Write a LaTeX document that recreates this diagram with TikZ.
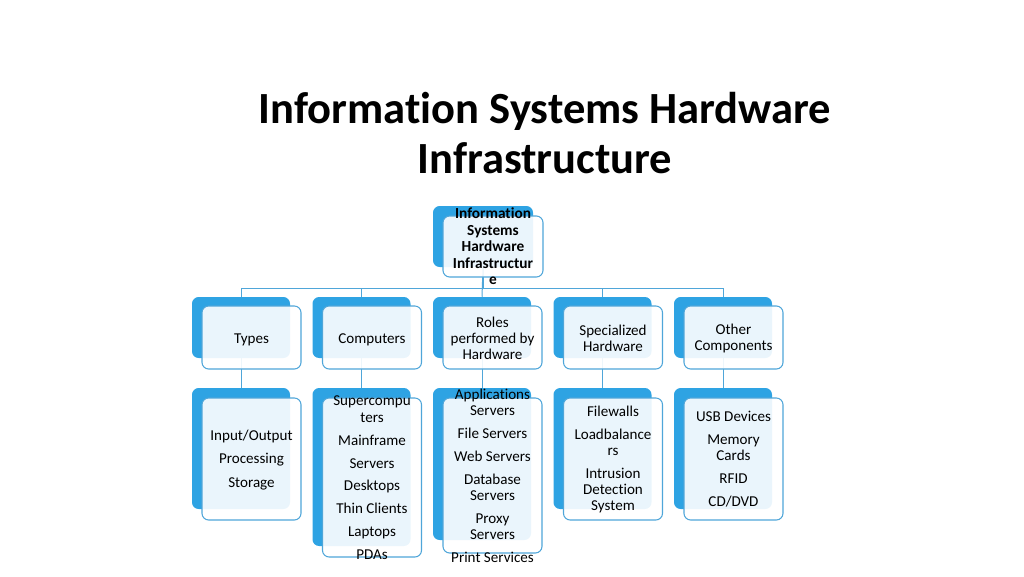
\documentclass[tikz,border=0pt]{standalone}
\usepackage{fontspec}
\setmainfont{Carlito}[Ligatures=CommonOff]
\usepackage{xcolor}
\usetikzlibrary{positioning}
\pgfdeclarelayer{background}
\pgfsetlayers{background,main}
\definecolor{smartblue}{HTML}{2EA3E3}
\definecolor{edgeblue}{HTML}{4FA6D9}
\tikzset{
    back-box/.style = {fill=smartblue, draw=none, rectangle, rounded corners=5pt, minimum width=73.5pt, minimum height=45.75pt, inner sep=0pt},
    front-box/.style = {draw=edgeblue, fill=white, fill opacity=0.9, line width=0.8pt, rectangle, rounded corners=5pt, minimum width=74.25pt, minimum height=47.25pt, inner sep=0pt},
    box-text/.style = {align=center, inner sep=0pt, font=\fontsize{11.3}{12.2}\selectfont},
    link/.style = {draw=edgeblue, line width=0.75pt},
}

\begin{document}
\begin{tikzpicture}[x=0.75pt, y=-0.75pt]
\useasboundingbox (0,0) rectangle (1024,576);

% title
\node[align=center, font=\fontsize{33.4}{38}\selectfont\bfseries] (title) at (545,133) {Information Systems Hardware\\Infrastructure};

% root
\node[back-box, minimum width=75pt] (rootB) at (483,236.5) {};
\node[front-box, minimum width=75pt, minimum height=45.75pt] (rootF) at (493,246.5) {};
\node[box-text, font=\fontsize{11.5}{12.4}\selectfont\bfseries] (rootT) at (493,246.5) {Information\\Systems\\Hardware\\Infrastructur\\e};

% second row
\node[back-box] (typesB) at (241,327.5) {};
\node[front-box] (typesF) at (251.5,337.5) {};
\node[box-text] (typesT) at (251.5,339.5) {Types};

\node[back-box] (compB) at (361.5,327.5) {};
\node[front-box] (compF) at (372,337.5) {};
\node[box-text] (compT) at (372,339.5) {Computers};

\node[back-box] (rolesB) at (482,327.5) {};
\node[front-box] (rolesF) at (492.5,337.5) {};
\node[box-text] (rolesT) at (492.5,338.5) {Roles\\performed by\\Hardware};

\node[back-box] (specB) at (602.5,327.5) {};
\node[front-box] (specF) at (613,337.5) {};
\node[box-text] (specT) at (613,338.5) {Specialized\\Hardware};

\node[back-box] (otherB) at (723,327.5) {};
\node[front-box] (otherF) at (733.5,337.5) {};
\node[box-text] (otherT) at (733.5,338.5) {Other\\Components};

% third row
\node[back-box, minimum height=90.75pt] (typesItemsB) at (241,448.5) {};
\node[front-box, minimum height=91.5pt] (typesItemsF) at (251.5,459) {};
\node[box-text] (typesItemsT) at (251.5,460) {Input/Output\\[5.3pt]Processing\\[5.3pt]Storage};

\node[back-box, minimum height=118.5pt] (compItemsB) at (361.5,467) {};
\node[front-box, minimum height=119.25pt] (compItemsF) at (372,477.5) {};
\node[box-text] (compItemsT) at (372,478) {Supercompu\\ters\\[5pt]Mainframe\\[5pt]Servers\\[5pt]Desktops\\[5pt]Thin Clients\\[5pt]Laptops\\[5pt]PDAs};

\node[back-box, minimum height=114pt] (rolesItemsB) at (482,464) {};
\node[front-box, minimum height=116.25pt] (rolesItemsF) at (492.5,475.5) {};
\node[box-text] (rolesItemsT) at (492.5,476) {Applications\\Servers\\[5pt]File Servers\\[5pt]Web Servers\\[5pt]Database\\Servers\\[5pt]Proxy\\Servers\\[5pt]Print Services};

\node[back-box, minimum height=90.75pt] (specItemsB) at (602.5,448.5) {};
\node[front-box, minimum height=91.5pt] (specItemsF) at (613,459) {};
\node[box-text] (specItemsT) at (613,459.5) {Filewalls\\[5pt]Loadbalance\\rs\\[5pt]Intrusion\\Detection\\System};

\node[back-box, minimum height=90.75pt] (otherItemsB) at (723,448.5) {};
\node[front-box, minimum height=91.5pt] (otherItemsF) at (733.5,459) {};
\node[box-text] (otherItemsT) at (733.5,459) {USB Devices\\[5pt]Memory\\Cards\\[5pt]RFID\\[5pt]CD/DVD};

% connectors
\coordinate (bar) at (0,288);
\begin{pgfonlayer}{background}
\draw[link] (rootB.south) -- (rootB.south |- bar) -| (typesB.north);
\draw[link] (rootB.south) -- (rootB.south |- bar) -| (compB.north);
\draw[link] (rootB.south) -- (rolesB.north);
\draw[link] (rootB.south) -- (rootB.south |- bar) -| (specB.north);
\draw[link] (rootB.south) -- (rootB.south |- bar) -| (otherB.north);
\draw[link] (typesB.south) -- (typesItemsB.north);
\draw[link] (compB.south) -- (compItemsB.north);
\draw[link] (rolesB.south) -- (rolesItemsB.north);
\draw[link] (specB.south) -- (specItemsB.north);
\draw[link] (otherB.south) -- (otherItemsB.north);
\end{pgfonlayer}
\end{tikzpicture}
\end{document}
